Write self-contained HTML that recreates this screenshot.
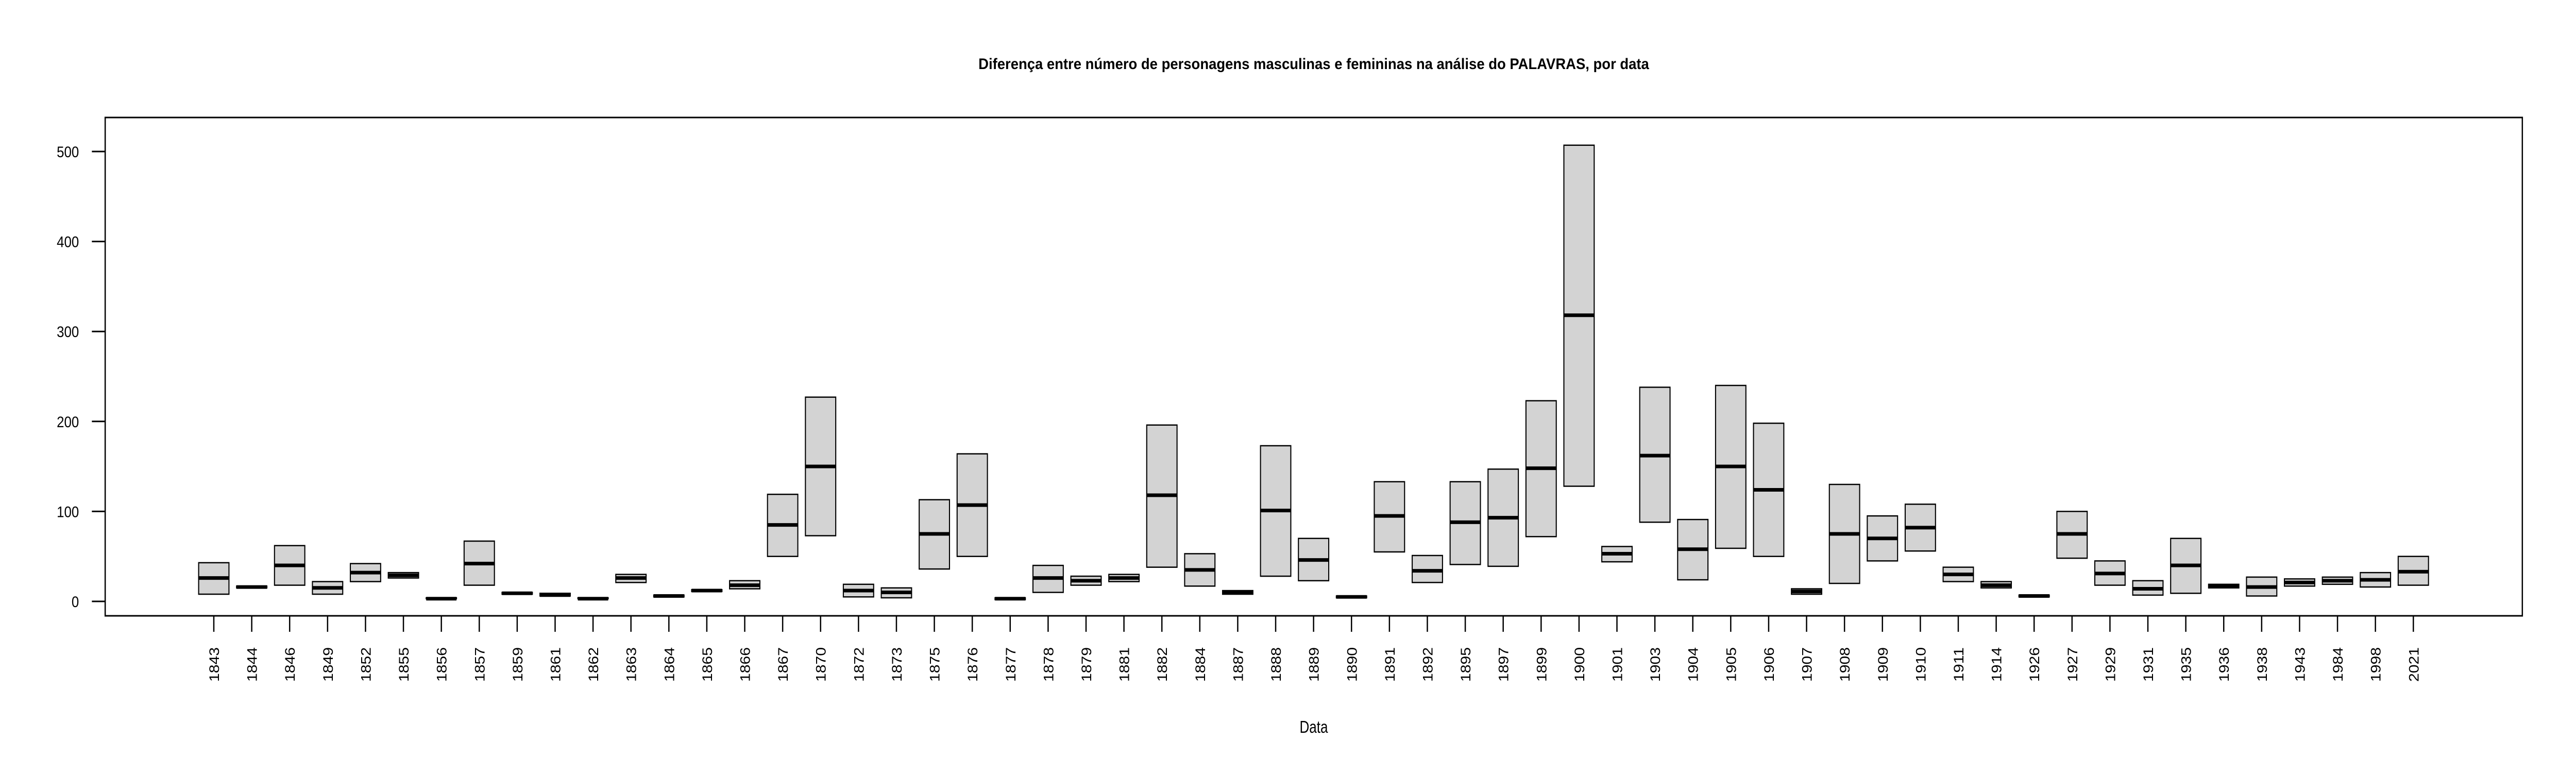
<!DOCTYPE html>
<html><head><meta charset="utf-8"><style>
html,body{margin:0;padding:0;background:#fff;overflow:hidden;width:100%;height:100%;}
svg{display:block;position:absolute;left:0;top:0;width:100vw;height:100vh;}
text{font-family:"Liberation Sans",sans-serif;fill:#000;}
</style></head><body>
<svg id="s" viewBox="0 0 6000 1500" preserveAspectRatio="none" xmlns="http://www.w3.org/2000/svg">
<rect x="0" y="0" width="6000" height="1500" fill="#fff"/>
<text x="3060" y="134" font-size="30" font-weight="bold" text-anchor="middle" textLength="1562" lengthAdjust="spacingAndGlyphs">Diferença entre número de personagens masculinas e femininas na análise do PALAVRAS, por data</text>
<text x="3060" y="1422" font-size="33" text-anchor="middle" textLength="66" lengthAdjust="spacingAndGlyphs">Data</text>
<g id="g"></g>
<rect x="245" y="228" width="5630" height="967" fill="none" stroke="#000" stroke-width="3"/>
</svg>
<script>
var d=[["1843",8,26,43],["1844",15,16,17],["1846",18,40,62],["1849",8,15,22],["1852",22,32,42],["1855",26,29,32],["1856",3,3,4],["1857",18,42,67],["1859",8,9,10],["1861",6,7,9],["1862",3,3,4],["1863",21,26,30],["1864",5,6,7],["1865",11,12,13],["1866",14,18,23],["1867",50,85,119],["1870",73,150,227],["1872",5,12,19],["1873",4,10,15],["1875",36,75,113],["1876",50,107,164],["1877",2,3,4],["1878",10,26,40],["1879",18,23,28],["1881",22,26,30],["1882",38,118,196],["1884",17,35,53],["1887",8,10,12],["1888",28,101,173],["1889",23,46,70],["1890",4,5,6],["1891",55,95,133],["1892",21,34,51],["1895",41,88,133],["1897",39,93,147],["1899",72,148,223],["1900",128,318,507],["1901",44,53,61],["1903",88,162,238],["1904",24,58,91],["1905",59,150,240],["1906",50,124,198],["1907",8,11,14],["1908",20,75,130],["1909",45,70,95],["1910",56,82,108],["1911",22,30,38],["1914",15,18,22],["1926",5,6,7],["1927",48,75,100],["1929",18,31,45],["1931",7,14,23],["1935",9,40,70],["1936",15,17,19],["1938",6,16,27],["1943",17,21,25],["1984",19,23,27],["1998",16,24,32],["2021",18,33,50]];
var h='';
function Y(v){return 1167-v*1.746;}
for(var i=0;i<d.length;i++){
 var x=498+i*88.33, r=d[i];
 var y1=Y(r[3]), y0=Y(r[1]), ym=Y(r[2]);
 h+='<rect x="'+(x-35.3)+'" y="'+y1+'" width="70.6" height="'+Math.max(y0-y1,1)+'" fill="#d3d3d3" stroke="#000" stroke-width="2.5"/>';
 h+='<line x1="'+(x-35.3)+'" x2="'+(x+35.3)+'" y1="'+ym+'" y2="'+ym+'" stroke="#000" stroke-width="7"/>';
 h+='<line x1="'+x+'" x2="'+x+'" y1="1195" y2="1226" stroke="#000" stroke-width="3"/>';
 h+='<text transform="translate('+(x+12)+',1256) rotate(-90)" font-size="32" text-anchor="end" textLength="67" lengthAdjust="spacingAndGlyphs">'+r[0]+'</text>';
}
for(var v=0;v<=500;v+=100){
 var y=Y(v);
 h+='<line x1="214" x2="245" y1="'+y+'" y2="'+y+'" stroke="#000" stroke-width="3"/>';
 var s=String(v);
 h+='<text x="184" y="'+(y+11)+'" font-size="30" text-anchor="end" textLength="'+(s.length*17.3)+'" lengthAdjust="spacingAndGlyphs">'+s+'</text>';
}
document.getElementById('g').innerHTML=h;
</script>
</body></html>
